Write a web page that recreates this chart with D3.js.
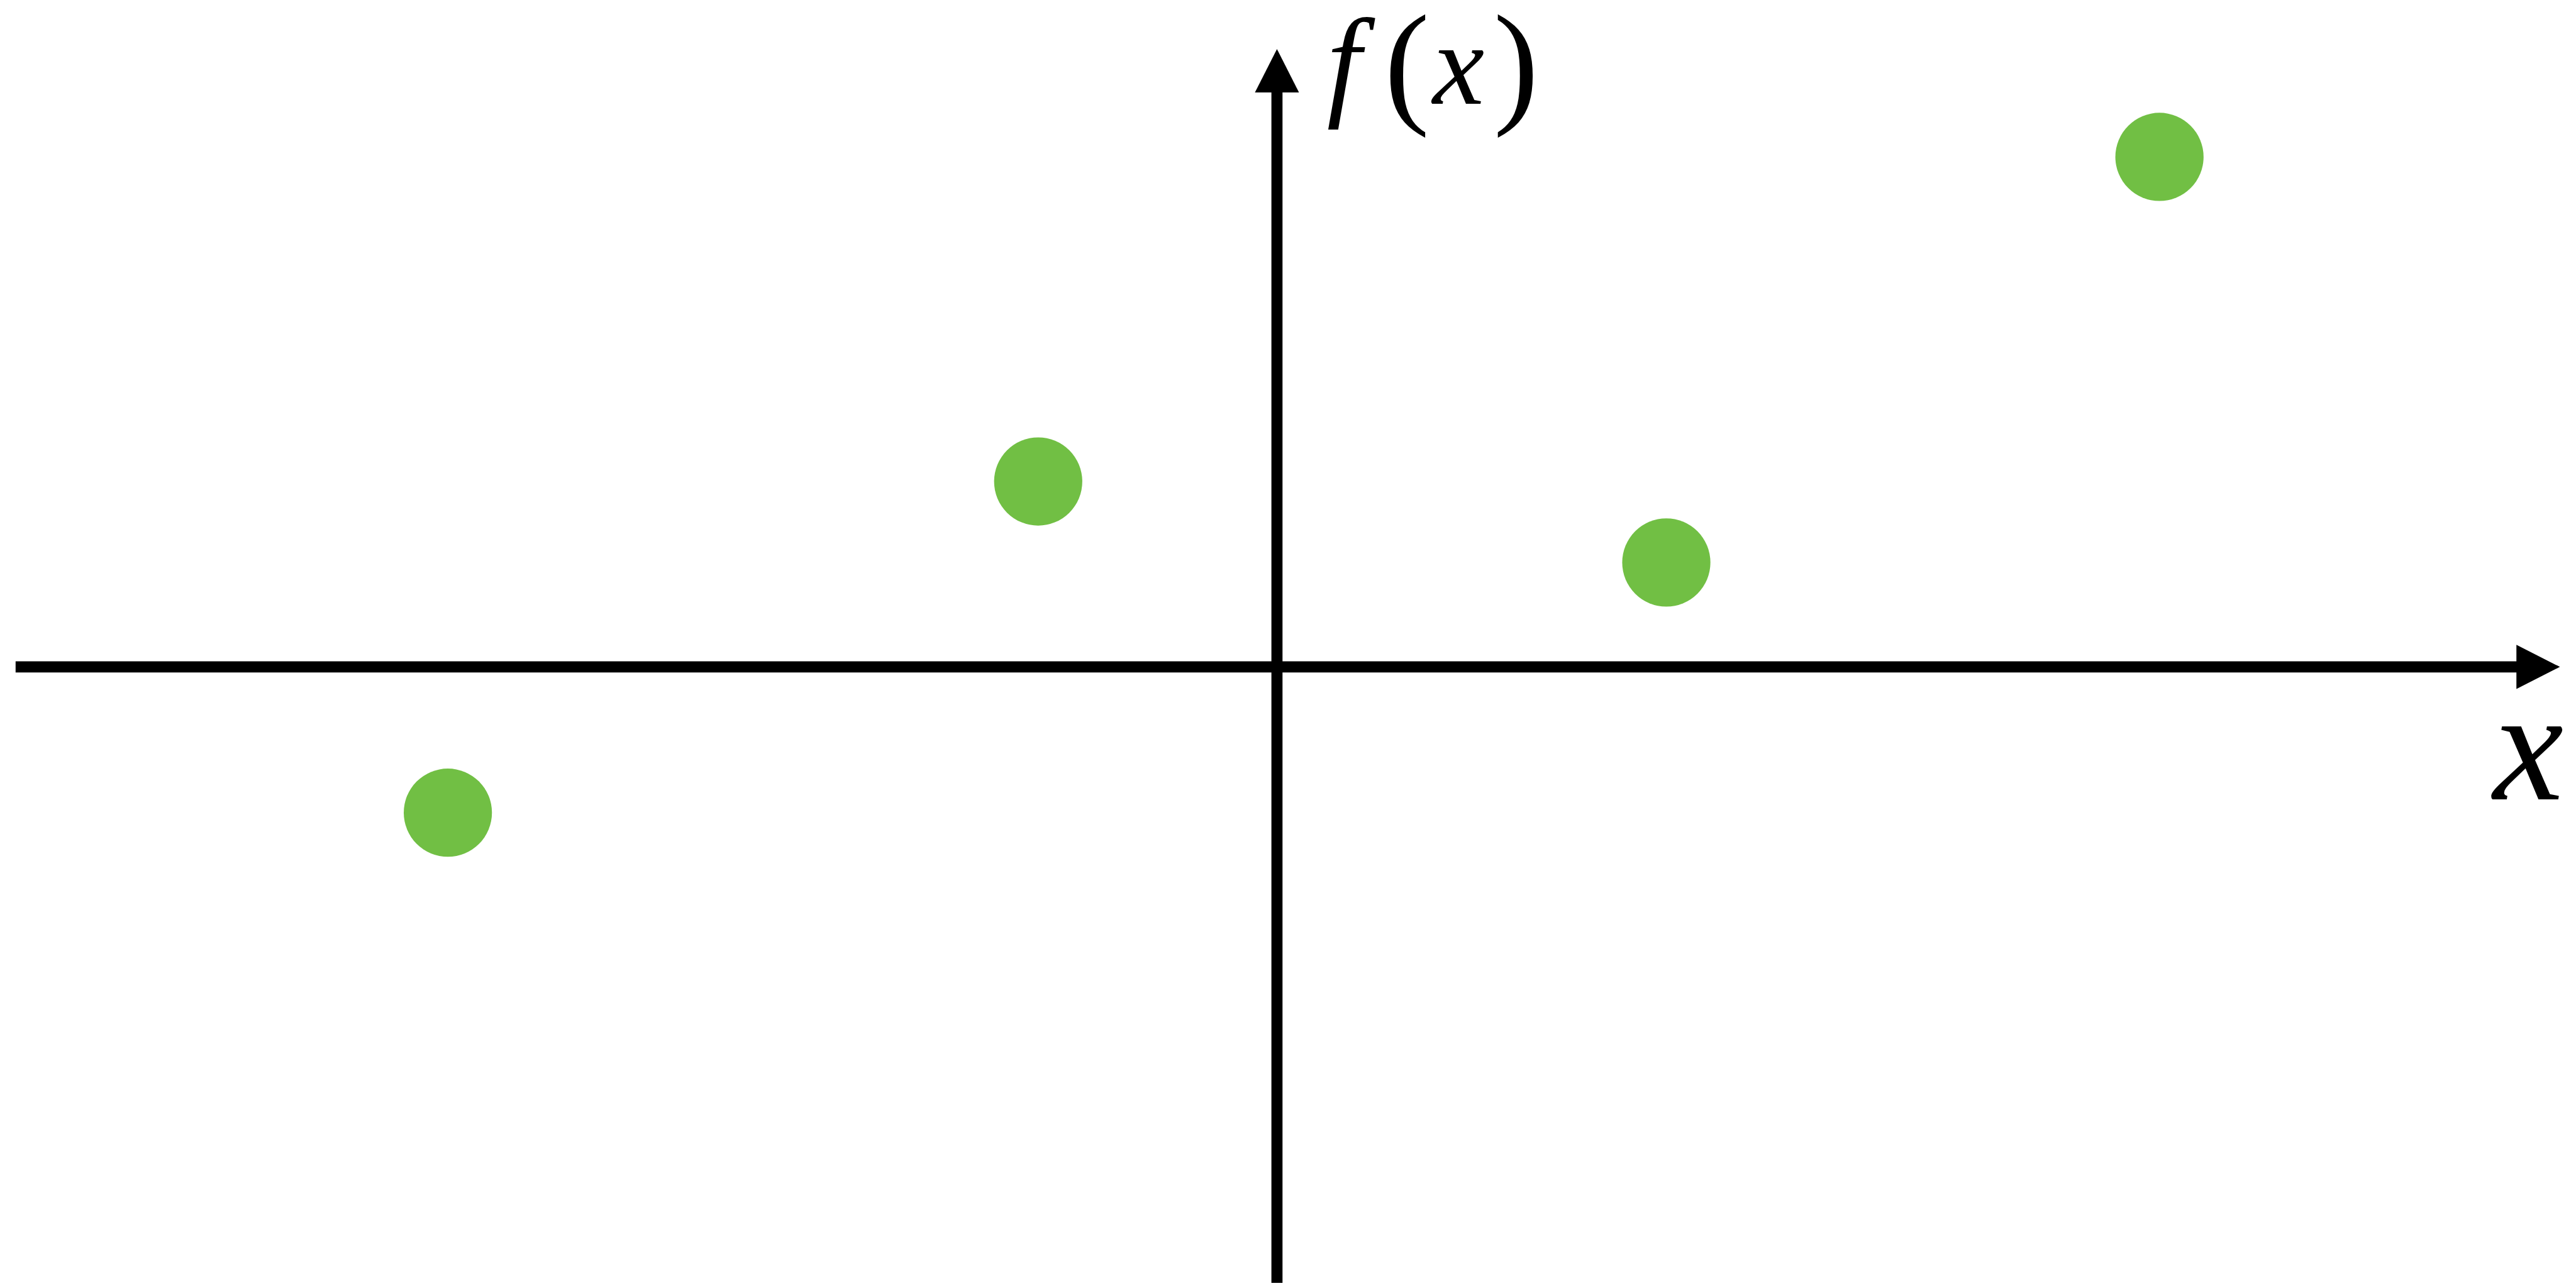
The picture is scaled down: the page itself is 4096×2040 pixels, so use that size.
<!DOCTYPE html>
<html>
<head>
<meta charset="utf-8">
<script src="https://cdn.jsdelivr.net/npm/d3@7"></script>
<style>
  html, body { margin: 0; padding: 0; background: #fff; }
  svg { display: block; }
</style>
</head>
<body>
<script>
// ---- data (units: arbitrary) ----
const pointX = [-13.82, -3.98, 6.49, 14.71];
const pointY = [-2.43, 3.09, 1.74, 8.50];
const xDomain = [-21.025, 21.385];
const yDomain = [-10.265, 10.298];
const xAxisLabel = ["x"];
const yAxisLabel = ["f", "(", "x", ")"];

// ---- layout (reference pixel space, then scaled) ----
const S = 0.954;
const W = 4096, H = 2040;
const svg = d3.select("body").append("svg").attr("width", W).attr("height", H);
const g = svg.append("g").attr("transform", `scale(${S})`);

const x = d3.scaleLinear().domain(xDomain).range([26, 4266.7]);
const y = d3.scaleLinear().domain(yDomain).range([2138, 81.7]);

const sw = 18.5, headLen = 72.5, headHalf = 36.7;
const x0 = x(0), y0 = y(0);
const xEnd = x(xDomain[1]), yEnd = y(yDomain[1]);

// horizontal axis
g.append("line")
  .attr("x1", x(xDomain[0])).attr("x2", xEnd - headLen + 1)
  .attr("y1", y0).attr("y2", y0)
  .attr("stroke", "#000").attr("stroke-width", sw);
g.append("path")
  .attr("d", `M${xEnd},${y0} L${xEnd - headLen},${y0 - headHalf} L${xEnd - headLen},${y0 + headHalf} Z`)
  .attr("fill", "#000");

// vertical axis
g.append("line")
  .attr("x1", x0).attr("x2", x0)
  .attr("y1", y(yDomain[0])).attr("y2", yEnd + headLen - 1)
  .attr("stroke", "#000").attr("stroke-width", sw);
g.append("path")
  .attr("d", `M${x0},${yEnd} L${x0 - headHalf},${yEnd + headLen} L${x0 + headHalf},${yEnd + headLen} Z`)
  .attr("fill", "#000");

// points
g.selectAll("circle.pt")
  .data(pointX.map((v, i) => [v, pointY[i]]))
  .enter().append("circle")
  .attr("class", "pt")
  .attr("cx", d => x(d[0])).attr("cy", d => y(d[1]))
  .attr("r", 73.5)
  .attr("fill", "#71bf44");

// labels
const fam = "'Liberation Serif', 'Times New Roman', serif";
const yLabSpec = [
  { cx: 2240, by: 172, size: 205, italic: true },
  { cx: 2345, by: 181, size: 226, italic: false },
  { cx: 2431, by: 173, size: 194, italic: true },
  { cx: 2527, by: 181, size: 226, italic: false }
];
g.selectAll("text.ylab")
  .data(yAxisLabel)
  .enter().append("text")
  .attr("class", "ylab")
  .attr("x", (d, i) => yLabSpec[i].cx)
  .attr("y", (d, i) => yLabSpec[i].by)
  .attr("text-anchor", "middle")
  .attr("font-family", fam)
  .attr("font-size", (d, i) => yLabSpec[i].size)
  .attr("font-style", (d, i) => yLabSpec[i].italic ? "italic" : "normal")
  .attr("fill", "#000")
  .text(d => d);

g.append("text")
  .attr("x", 4214).attr("y", 1332)
  .attr("text-anchor", "middle")
  .attr("font-family", fam)
  .attr("font-size", 264)
  .attr("font-style", "italic")
  .attr("fill", "#000")
  .text(xAxisLabel[0]);
</script>
</body>
</html>
